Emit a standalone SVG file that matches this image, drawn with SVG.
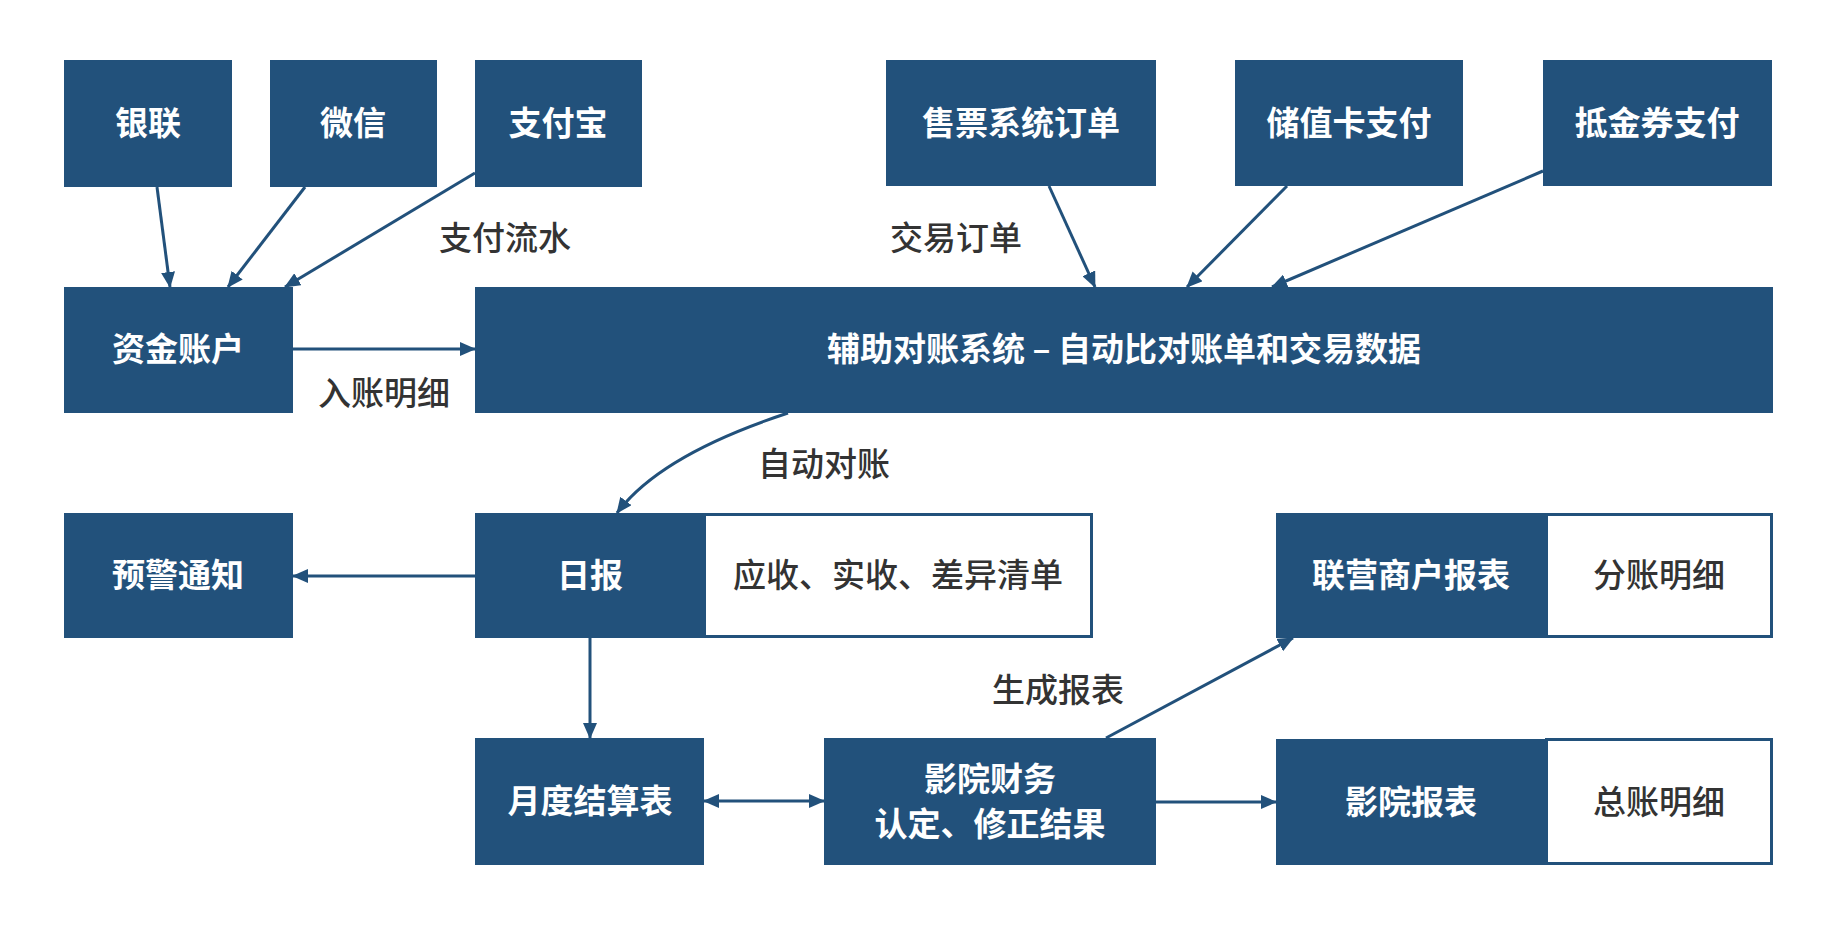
<svg xmlns="http://www.w3.org/2000/svg" width="1833" height="926" viewBox="0 0 1833 926">
<style>
.b{fill:#22517b}
.w{fill:#ffffff;stroke:#22517b;stroke-width:3}
.t{font-family:"Noto Sans CJK SC","Noto Sans",sans-serif;font-size:33px;text-anchor:middle;dominant-baseline:central}
.tw{fill:#ffffff;font-weight:600}
.td{fill:#333333;font-weight:500}
.c{stroke:#22517b;stroke-width:3;fill:none}
</style>
<defs>
<marker id="ah" markerUnits="userSpaceOnUse" markerWidth="16" markerHeight="14" refX="15" refY="7" orient="auto-start-reverse">
<path d="M0,0 L16,7 L0,14 Z" fill="#22517b"/>
</marker>
</defs>
<rect width="1833" height="926" fill="#ffffff"/>
<g id="n-yinlian"><rect class="b" x="64" y="60" width="168" height="127"/><text class="t tw" x="148" y="121">银联</text></g>
<g id="n-weixin"><rect class="b" x="270" y="60" width="167" height="127"/><text class="t tw" x="353" y="121">微信</text></g>
<g id="n-zhifubao"><rect class="b" x="475" y="60" width="167" height="127"/><text class="t tw" x="558" y="121">支付宝</text></g>
<g id="n-shoupiao"><rect class="b" x="886" y="60" width="270" height="126"/><text class="t tw" x="1021" y="121">售票系统订单</text></g>
<g id="n-chuzhi"><rect class="b" x="1235" y="60" width="228" height="126"/><text class="t tw" x="1349" y="121">储值卡支付</text></g>
<g id="n-dijin"><rect class="b" x="1543" y="60" width="229" height="126"/><text class="t tw" x="1657" y="121">抵金券支付</text></g>
<g id="n-zijin"><rect class="b" x="64" y="287" width="229" height="126"/><text class="t tw" x="178" y="347">资金账户</text></g>
<g id="n-fuzhu"><rect class="b" x="475" y="287" width="1298" height="126"/><text class="t tw" x="1124" y="347">辅助对账系统 – 自动比对账单和交易数据</text></g>
<g id="n-yujing"><rect class="b" x="64" y="513" width="229" height="125"/><text class="t tw" x="178" y="573">预警通知</text></g>
<g id="n-ribao"><rect class="w" x="704.5" y="514.5" width="387" height="122"/><rect class="b" x="475" y="513" width="229" height="125"/><text class="t tw" x="590" y="573">日报</text><text class="t td" x="898" y="573">应收、实收、差异清单</text></g>
<g id="n-lianying"><rect class="w" x="1546.5" y="514.5" width="225" height="122"/><rect class="b" x="1276" y="513" width="270" height="125"/><text class="t tw" x="1411" y="573">联营商户报表</text><text class="t td" x="1659" y="573">分账明细</text></g>
<g id="n-yuedu"><rect class="b" x="475" y="738" width="229" height="127"/><text class="t tw" x="590" y="799">月度结算表</text></g>
<g id="n-caiwu"><rect class="b" x="824" y="738" width="332" height="127"/><text class="t tw" x="990" y="777">影院财务</text><text class="t tw" x="990" y="822">认定、修正结果</text></g>
<g id="n-yingyuan"><rect class="w" x="1546.5" y="739.5" width="225" height="124"/><rect class="b" x="1276" y="739" width="270" height="126"/><text class="t tw" x="1411" y="800">影院报表</text><text class="t td" x="1659" y="800">总账明细</text></g>
<g id="connectors">
<line class="c" x1="157" y1="187" x2="170" y2="287" marker-end="url(#ah)"/>
<line class="c" x1="305" y1="187" x2="228" y2="287" marker-end="url(#ah)"/>
<line class="c" x1="475" y1="173" x2="285" y2="287" marker-end="url(#ah)"/>
<line class="c" x1="293" y1="349" x2="475" y2="349" marker-end="url(#ah)"/>
<line class="c" x1="1049" y1="186" x2="1095" y2="287" marker-end="url(#ah)"/>
<line class="c" x1="1287" y1="186" x2="1187" y2="287" marker-end="url(#ah)"/>
<line class="c" x1="1543" y1="171" x2="1272" y2="287" marker-end="url(#ah)"/>
<path class="c" d="M788,413 Q660,455 617,513" marker-end="url(#ah)"/>
<line class="c" x1="475" y1="576" x2="293" y2="576" marker-end="url(#ah)"/>
<line class="c" x1="590" y1="638" x2="590" y2="738" marker-end="url(#ah)"/>
<line class="c" x1="704" y1="801" x2="824" y2="801" marker-start="url(#ah)" marker-end="url(#ah)"/>
<line class="c" x1="1156" y1="802" x2="1276" y2="802" marker-end="url(#ah)"/>
<line class="c" x1="1106" y1="738" x2="1293" y2="638" marker-end="url(#ah)"/>
<text class="t td" x="505" y="236">支付流水</text>
<text class="t td" x="956" y="236">交易订单</text>
<text class="t td" x="384" y="391">入账明细</text>
<text class="t td" x="824" y="462">自动对账</text>
<text class="t td" x="1058" y="688">生成报表</text>
</g>
</svg>
